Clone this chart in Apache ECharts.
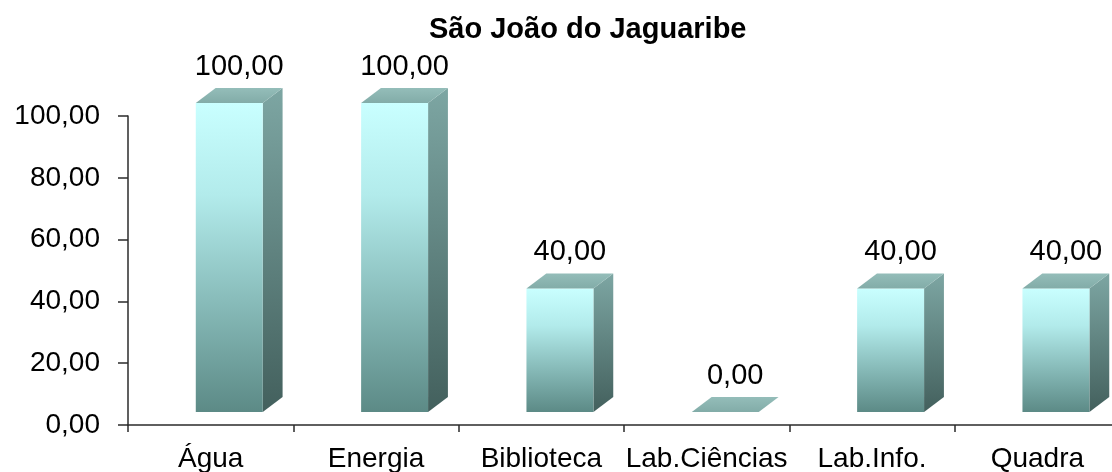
<!DOCTYPE html>
<html>
<head>
<meta charset="utf-8">
<script src="https://cdn.jsdelivr.net/npm/echarts@6/dist/echarts.min.js"></script>
<style>
html, body { margin: 0; padding: 0; background: #fff; }
#chart { width: 1112px; height: 472px; }
</style>
</head>
<body>
<div id="chart"></div>
<script>
// dados
var categories = ['Água', 'Energia', 'Biblioteca', 'Lab.Ciências', 'Lab.Info.', 'Quadra'];
var values = [100, 100, 40, 0, 40, 40];
var yTicks = [0, 20, 40, 60, 80, 100];

var FONT = '"Liberation Sans", Arial, sans-serif';

function fmt(v) {
    return Number(v).toFixed(2).replace('.', ',');
}

// barra 3d: frente + lado + topo
function renderBar(params, api) {
    var idx = api.value(0);
    var val = api.value(1);
    var base = api.coord([idx, 0]);
    var top = api.coord([idx, val]);
    var band = api.size([1, 0])[0];
    var lift = 13;
    var x0 = base[0] - band * 0.09;
    var w = band * 0.405;
    var dx = band * 0.12, dy = -15;
    var yb = base[1] - lift, yt = top[1] - lift;
    var kids = [];

    if (yb - yt > 0.5) {
        kids.push({
            type: 'polygon',
            shape: { points: [[x0 + w, yb], [x0 + w + dx, yb + dy], [x0 + w + dx, yt + dy], [x0 + w, yt]] },
            style: {
                fill: new echarts.graphic.LinearGradient(0, 0, 0, 1, [
                    { offset: 0, color: '#7da6a3' },
                    { offset: 1, color: '#43605d' }
                ])
            }
        });
        kids.push({
            type: 'rect',
            shape: { x: x0, y: yt, width: w, height: yb - yt },
            style: {
                fill: new echarts.graphic.LinearGradient(0, 0, 0, 1, [
                    { offset: 0, color: '#c9ffff' },
                    { offset: 0.3, color: '#b2ebeb' },
                    { offset: 1, color: '#5c8a86' }
                ])
            }
        });
    }
    kids.push({
        type: 'polygon',
        shape: { points: [[x0, yt], [x0 + w, yt], [x0 + w + dx, yt + dy], [x0 + dx, yt + dy]] },
        style: {
            fill: new echarts.graphic.LinearGradient(0, 1, 0, 0, [
                { offset: 0, color: '#82aca8' },
                { offset: 1, color: '#94bdb9' }
            ])
        }
    });
    kids.push({
        type: 'text',
        style: {
            text: fmt(val),
            x: x0 + (w + dx) / 2,
            y: yt + dy - 7,
            align: 'center',
            verticalAlign: 'bottom',
            fontSize: 29,
            fontFamily: FONT,
            fill: '#000'
        }
    });
    return { type: 'group', children: kids };
}

var chart = echarts.init(document.getElementById('chart'));

var option = {
    animation: false,
    backgroundColor: '#fff',
    title: {
        text: 'São João do Jaguaribe',
        left: 429,
        top: 15,
        padding: 0,
        textStyle: { fontSize: 29, fontWeight: 'bold', fontFamily: FONT, color: '#000' }
    },
    grid: { left: 128, right: -8, top: 116, bottom: 47, outerBoundsMode: 'none' },
    xAxis: {
        type: 'category',
        data: categories,
        boundaryGap: true,
        axisLine: { lineStyle: { color: '#2b2b2b', width: 1.5 } },
        axisTick: { show: true, length: 7, lineStyle: { color: '#2b2b2b', width: 1.5 } },
        axisLabel: { interval: 0, margin: 20, fontSize: 28, fontFamily: FONT, color: '#000' },
        splitLine: { show: false }
    },
    yAxis: {
        type: 'value',
        min: yTicks[0],
        max: yTicks[yTicks.length - 1],
        interval: yTicks[1] - yTicks[0],
        axisLine: { show: true, lineStyle: { color: '#2b2b2b', width: 1.5 } },
        axisTick: { show: true, length: 10, lineStyle: { color: '#2b2b2b', width: 1.5 } },
        axisLabel: { formatter: fmt, margin: 28, fontSize: 28, fontFamily: FONT, color: '#000' },
        splitLine: { show: false }
    },
    series: [{
        type: 'custom',
        renderItem: renderBar,
        clip: false,
        encode: { x: 0, y: 1 },
        data: values.map(function (v, i) { return [i, v]; })
    }]
};

chart.setOption(option);
</script>
</body>
</html>
